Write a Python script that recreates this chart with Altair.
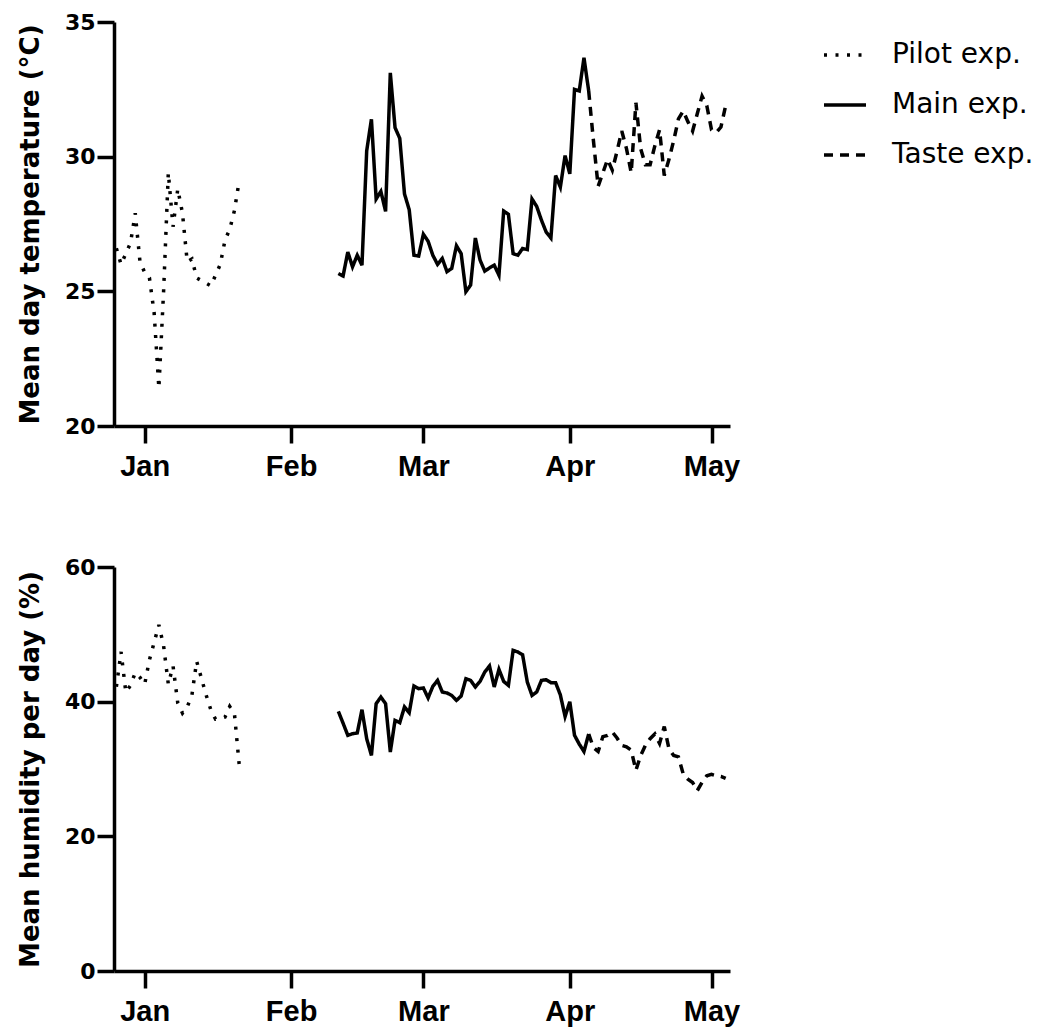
import altair as alt
import pandas as pd

# ---- data (one value per day) ----
series_names = ["Pilot exp.", "Main exp.", "Taste exp."]
start_dates = ["2018-12-26", "2019-02-11", "2019-04-05"]
month_ticks = [1, 2, 3, 4, 5]  # Jan..May (first of month, 2019)

pilot_temp = [26.6, 26.0, 26.4, 26.8, 27.9, 26.1, 25.7, 25.5, 24.2, 21.4,
              25.0, 29.4, 27.4, 28.8, 27.9, 26.1, 26.2, 25.5, 25.4, 25.3,
              25.2, 25.6, 26.0, 26.9, 27.3, 28.0, 29.1]
pilot_hum = [42.2, 47.4, 41.4, 42.4, 44.3, 43.6, 42.6, 46.2, 48.8, 51.4,
             48.3, 42.6, 45.3, 39.8, 38.3, 39.2, 41.0, 46.0, 43.5, 41.0,
             38.8, 37.4, 37.5, 37.7, 39.3, 38.2, 30.7]

main_temp = [25.66, 25.57, 26.46, 25.91, 26.34, 25.97, 30.22, 31.39, 28.43, 28.71,
             27.97, 33.11, 31.08, 30.68, 28.62, 28.03, 26.34, 26.31, 27.12, 26.86,
             26.34, 26.00, 26.22, 25.73, 25.85, 26.69, 26.40, 24.99, 25.23, 26.98,
             26.16, 25.75, 25.87, 25.97, 25.60, 27.98, 27.86, 26.40, 26.34, 26.59,
             26.55, 28.43, 28.15, 27.64, 27.20, 26.98, 29.30, 28.87, 30.04, 29.36,
             32.50, 32.44, 33.67, 32.44]
main_hum = [38.56, 36.8, 35.0, 35.24, 35.35, 38.81, 34.5, 32.02, 39.7, 40.69,
            39.7, 32.53, 37.22, 36.88, 39.21, 38.36, 42.33, 41.93, 42.03, 40.55,
            42.27, 43.16, 41.44, 41.29, 40.93, 40.19, 40.84, 43.41, 43.16, 42.18,
            43.01, 44.41, 45.3, 42.18, 44.8, 43.01, 42.42, 47.62, 47.38, 46.98,
            42.92, 40.93, 41.44, 43.16, 43.26, 42.82, 42.82, 41.0, 37.8, 40.0,
            35.0, 33.7, 32.6, 35.2]

taste_temp = [32.44, 30.6, 28.9, 29.4, 29.9, 29.5, 30.2, 30.95, 30.3, 29.4,
              32.0, 30.3, 29.7, 29.7, 30.4, 31.0, 29.3, 29.9, 30.6, 31.4,
              31.7, 31.3, 30.95, 31.6, 32.25, 31.9, 31.0, 30.9, 31.1, 31.9]
taste_hum = [35.2, 33.2, 32.6, 34.8, 35.0, 35.5, 34.6, 33.5, 33.3, 32.8,
             29.8, 32.0, 33.5, 34.5, 35.2, 33.8, 36.3, 33.0, 32.0, 31.8,
             29.3, 28.5, 28.0, 26.8, 28.0, 29.0, 29.2, 29.0, 28.9, 28.6]

temp_ticks = [20, 25, 30, 35]
hum_ticks = [0, 20, 40, 60]

# ---- table ----
rows = []
for name, start, temps, hums in zip(series_names, start_dates,
                                    [pilot_temp, main_temp, taste_temp],
                                    [pilot_hum, main_hum, taste_hum]):
    dates = pd.date_range(start, periods=len(temps), freq="D")
    for dt, t, h in zip(dates, temps, hums):
        rows.append({"date": dt.strftime("%Y-%m-%dT00:00:00"), "temp": t,
                     "hum": h, "series": name})
df = pd.DataFrame(rows)

x_domain = [alt.DateTime(year=2018, month=12, date=25, hours=12),
            alt.DateTime(year=2019, month=5, date=4, hours=22)]
x_enc = alt.X("date:T",
              scale=alt.Scale(domain=x_domain, nice=False),
              axis=alt.Axis(values=[alt.DateTime(year=2019, month=m, date=1) for m in month_ticks],
                            format="%b", title=None))

dash_scale = alt.Scale(domain=series_names, range=[[3, 8.5], [1, 0], [9, 7]])

W, H = 616, 404

top = alt.Chart(df).mark_line(color="black", strokeWidth=3.5).encode(
    x=x_enc,
    y=alt.Y("temp:Q", scale=alt.Scale(domain=[20, 35], nice=False, zero=False),
            axis=alt.Axis(values=temp_ticks, title="Mean day temperature (°C)")),
    strokeDash=alt.StrokeDash("series:N", scale=dash_scale,
                              legend=alt.Legend(title=None, orient="none",
                                                legendX=708, legendY=10)),
).properties(width=W, height=H)

bottom = alt.Chart(df).mark_line(color="black", strokeWidth=3.5).encode(
    x=x_enc,
    y=alt.Y("hum:Q", scale=alt.Scale(domain=[0, 60], nice=False),
            axis=alt.Axis(values=hum_ticks, title="Mean humidity per day (%)")),
    strokeDash=alt.StrokeDash("series:N", scale=dash_scale, legend=None),
).properties(width=W, height=H)

chart = alt.vconcat(top, bottom, spacing=141, bounds="flush").properties(
    padding={"left": 17, "top": 11, "right": 5, "bottom": 5}
).configure_view(stroke=None).configure_axis(
    grid=False,
    domainColor="black", domainWidth=3.5,
    tickColor="black", tickWidth=3.5, tickSize=17,
    labelColor="black",
    titleFont="DejaVu Sans", titleFontWeight="bold", titleFontSize=26,
    titleColor="black",
).configure_axisY(
    labelFont="DejaVu Sans", labelFontWeight="bold", labelFontSize=22,
    labelPadding=2, titlePadding=21,
).configure_axisX(
    labelFont="Liberation Sans", labelFontWeight="bold", labelFontSize=29,
    labelPadding=9,
).configure_legend(
    symbolType="stroke", symbolSize=1764, symbolStrokeWidth=3.5,
    symbolStrokeColor="black", labelFont="DejaVu Sans", labelFontSize=28,
    labelColor="black", labelOffset=24, rowPadding=13, padding=0,
)

chart.save("out.html", embed_options={"renderer": "svg", "actions": False})
